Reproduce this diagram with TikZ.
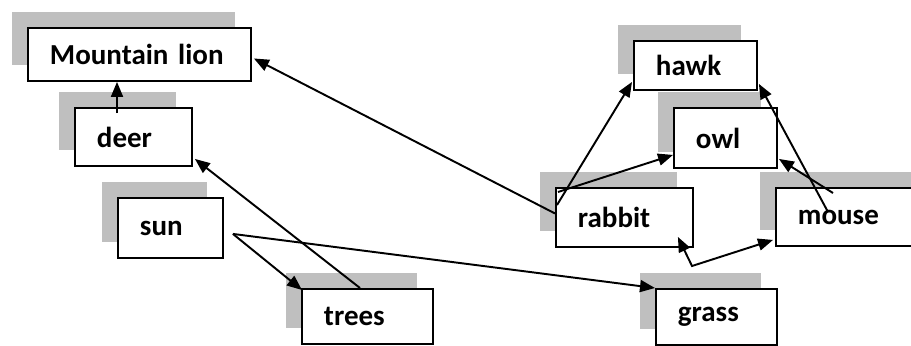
\documentclass[tikz,border=0pt]{standalone}
\usepackage{fontspec}
\setmainfont{Carlito}
\usetikzlibrary{arrows.meta,shadows}
\tikzset{
  box/.style 2 args={draw=black, fill=white, line width=1.1pt, anchor=north west,
    inner xsep=0.44cm, inner ysep=0pt, align=left, text width=#1, minimum height=#2,
    font=\fontsize{16.5}{18}\selectfont\bfseries,
    general shadow={fill=black!25, shadow xshift=-0.32cm, shadow yshift=0.32cm}},
  arr/.style={-{Triangle[length=0.3cm,width=0.24cm]}, line width=1.1pt},
  twoarr/.style={{Triangle[length=0.3cm,width=0.24cm]}-{Triangle[length=0.3cm,width=0.24cm]}, line width=1.1pt},
}

\begin{document}
\begin{tikzpicture}[x=0.02cm,y=-0.02cm]
\useasboundingbox (0,0) rectangle (911,345);
\node[box={3.58cm}{1.06cm}] (lion) at (27,27) {Mountain lion};
\node[box={1.58cm}{0.98cm}] (hawk) at (633,40) {hawk};
\node[box={1.46cm}{1.16cm}] (deer) at (74,107) {deer};
\node[box={1.18cm}{1.2cm}] (owl) at (673,107) {owl};
\node[box={1.86cm}{1.18cm}] (rabbit) at (555,187) {rabbit};
\node[box={2.4cm}{1.16cm}] (mouse) at (775,187) {mouse};
\node[box={1.22cm}{1.2cm}] (sun) at (117,197) {sun};
\node[box={1.74cm}{1.1cm}] (trees) at (301,288) {trees};
\node[box={1.54cm}{1.12cm}] (grass) at (655,288) {grass};
\coordinate (kink) at (692,266);
\draw[arr] ([shift={(43,6)}]deer.north west) -- ([shift={(90,0)}]lion.south west);
\draw[arr] ([shift={(59,0)}]trees.north west) -- ([shift={(2,-8)}]deer.south east);
\draw[arr] ([shift={(9,-25)}]sun.south east) -- ([shift={(1,2)}]trees.north west);
\draw[arr] ([shift={(9,-25)}]sun.south east) -- (grass.north west);
\draw[arr] ([shift={(0,-4)}]rabbit.west) -- ([shift={(2,4)}]lion.east);
\draw[arr] ([shift={(2,18)}]rabbit.north west) -- ([shift={(-1,-9)}]hawk.south west);
\draw[arr] ([shift={(3,5)}]rabbit.north west) -- ([shift={(0,-14)}]owl.south west);
\draw[arr] ([shift={(53,25)}]mouse.north west) -- ([shift={(1,-7)}]hawk.south east);
\draw[arr] ([shift={(58,6)}]mouse.north west) -- ([shift={(1,-10)}]owl.south east);
\draw[twoarr] ([shift={(-16,-11)}]rabbit.south east) -- (kink) -- ([shift={(-2,-7)}]mouse.south west);
\end{tikzpicture}
\end{document}
